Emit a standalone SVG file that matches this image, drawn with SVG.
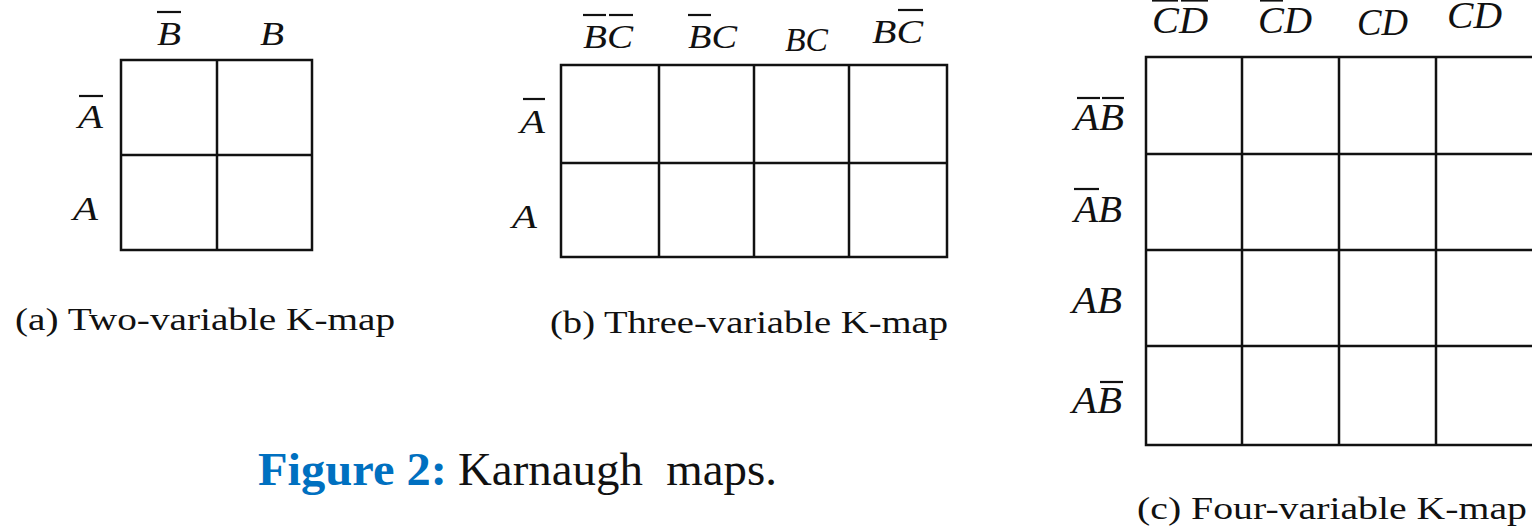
<svg xmlns="http://www.w3.org/2000/svg" width="1532" height="530" viewBox="0 0 1532 530">
<style>
.grid{fill:none;stroke:#111;stroke-width:2.5}
.lbl{font-family:'Liberation Serif','Times New Roman',Times,Tinos,'Nimbus Roman','Nimbus Roman No9 L',FreeSerif,serif;font-style:italic;fill:#111}
.a{font-size:34px}
.c{font-size:37px}
.bar{stroke:#111;stroke-width:2.2}
.cap{font-family:'Liberation Serif','Times New Roman',Times,Tinos,'Nimbus Roman','Nimbus Roman No9 L',FreeSerif,serif;font-size:32px;fill:#111}
.fig{font-family:'Liberation Serif','Times New Roman',Times,Tinos,'Nimbus Roman','Nimbus Roman No9 L',FreeSerif,serif;font-size:47px;fill:#111}
.figb{font-weight:bold;fill:#0070C0}
</style>
<rect width="1532" height="530" fill="#fff"/>
<g id="map-a">
<rect class="grid" x="121" y="60" width="191" height="190"/>
<line class="grid" x1="217" y1="60" x2="217" y2="250"/>
<line class="grid" x1="121" y1="155" x2="312" y2="155"/>
<text class="lbl a" x="157" y="45" textLength="24" lengthAdjust="spacingAndGlyphs">B</text>
<line class="bar" x1="157" y1="12" x2="181" y2="12"/>
<text class="lbl a" x="260" y="45" textLength="24" lengthAdjust="spacingAndGlyphs">B</text>
<text class="lbl a" x="78" y="128" textLength="25" lengthAdjust="spacingAndGlyphs">A</text>
<line class="bar" x1="79" y1="96" x2="103" y2="96"/>
<text class="lbl a" x="73" y="220" textLength="25" lengthAdjust="spacingAndGlyphs">A</text>
<text class="cap" x="15" y="330" textLength="380" lengthAdjust="spacingAndGlyphs">(a) Two-variable K-map</text>
</g>
<g id="map-b">
<rect class="grid" x="561" y="65" width="386" height="192"/>
<line class="grid" x1="659" y1="65" x2="659" y2="257"/>
<line class="grid" x1="754" y1="65" x2="754" y2="257"/>
<line class="grid" x1="849" y1="65" x2="849" y2="257"/>
<line class="grid" x1="561" y1="163" x2="947" y2="163"/>
<text class="lbl a" x="583" y="48" textLength="50" lengthAdjust="spacingAndGlyphs">BC</text>
<line class="bar" x1="583" y1="15" x2="606" y2="15"/>
<line class="bar" x1="609" y1="15" x2="633" y2="15"/>
<text class="lbl a" x="688" y="48" textLength="49" lengthAdjust="spacingAndGlyphs">BC</text>
<line class="bar" x1="688" y1="15" x2="711" y2="15"/>
<text class="lbl a" x="785" y="51" textLength="43" lengthAdjust="spacingAndGlyphs">BC</text>
<text class="lbl a" x="872" y="43" textLength="51" lengthAdjust="spacingAndGlyphs">BC</text>
<line class="bar" x1="898" y1="10" x2="923" y2="10"/>
<text class="lbl a" x="520" y="133" textLength="25" lengthAdjust="spacingAndGlyphs">A</text>
<line class="bar" x1="523" y1="99" x2="545" y2="99"/>
<text class="lbl a" x="512" y="228" textLength="25" lengthAdjust="spacingAndGlyphs">A</text>
<text class="cap" x="550" y="333" textLength="398" lengthAdjust="spacingAndGlyphs">(b) Three-variable K-map</text>
</g>
<g id="map-c">
<rect class="grid" x="1146" y="57" width="400" height="388"/>
<line class="grid" x1="1242" y1="57" x2="1242" y2="445"/>
<line class="grid" x1="1339" y1="57" x2="1339" y2="445"/>
<line class="grid" x1="1436" y1="57" x2="1436" y2="445"/>
<line class="grid" x1="1146" y1="154" x2="1546" y2="154"/>
<line class="grid" x1="1146" y1="250" x2="1546" y2="250"/>
<line class="grid" x1="1146" y1="346" x2="1546" y2="346"/>
<text class="lbl c" x="1152" y="33" textLength="56" lengthAdjust="spacingAndGlyphs">CD</text>
<line class="bar" x1="1152" y1="0.5" x2="1178" y2="0.5"/>
<line class="bar" x1="1181" y1="0.5" x2="1208" y2="0.5"/>
<text class="lbl c" x="1258" y="33" textLength="54" lengthAdjust="spacingAndGlyphs">CD</text>
<line class="bar" x1="1260" y1="0.5" x2="1283" y2="0.5"/>
<text class="lbl c" x="1357" y="35" textLength="51" lengthAdjust="spacingAndGlyphs">CD</text>
<text class="lbl c" x="1447" y="28" textLength="55" lengthAdjust="spacingAndGlyphs">CD</text>
<text class="lbl c" x="1074" y="130" textLength="50" lengthAdjust="spacingAndGlyphs">AB</text>
<line class="bar" x1="1077" y1="98" x2="1100" y2="98"/>
<line class="bar" x1="1102" y1="98" x2="1124" y2="98"/>
<text class="lbl c" x="1074" y="222" textLength="48" lengthAdjust="spacingAndGlyphs">AB</text>
<line class="bar" x1="1074" y1="189" x2="1099" y2="189"/>
<text class="lbl c" x="1072" y="313" textLength="50" lengthAdjust="spacingAndGlyphs">AB</text>
<text class="lbl c" x="1072" y="413" textLength="50" lengthAdjust="spacingAndGlyphs">AB</text>
<line class="bar" x1="1100" y1="382" x2="1123" y2="382"/>
<text class="cap" x="1137" y="519" textLength="390" lengthAdjust="spacingAndGlyphs">(c) Four-variable K-map</text>
</g>
<g id="figure-caption">
<text class="fig figb" x="258" y="485" textLength="189" lengthAdjust="spacingAndGlyphs">Figure 2:</text>
<text class="fig" x="458" y="485" textLength="319" lengthAdjust="spacingAndGlyphs" xml:space="preserve">Karnaugh  maps.</text>
</g>
<g id="connectors"/>
</svg>
